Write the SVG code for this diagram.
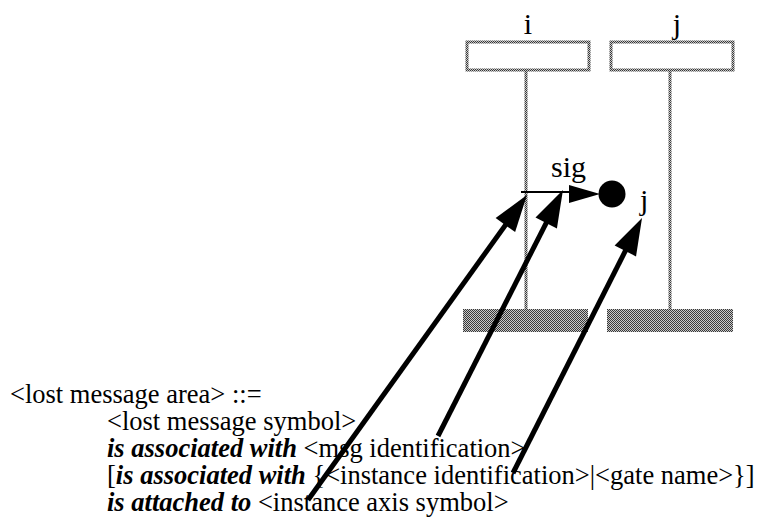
<svg xmlns="http://www.w3.org/2000/svg" width="758" height="523" viewBox="0 0 758 523">
<defs>
<pattern id="chk" x="0" y="0" width="2" height="2" patternUnits="userSpaceOnUse">
<rect width="2" height="2" fill="#c8c8c8"/>
<rect width="1" height="1" fill="#383838"/>
<rect x="1" y="1" width="1" height="1" fill="#383838"/>
</pattern>
<marker id="ah" markerUnits="userSpaceOnUse" markerWidth="40" markerHeight="28" viewBox="-38 -14 40 28" refX="-20" refY="0" orient="auto" overflow="visible">
<path d="M0,0 L-37,-12 L-37,12 Z" fill="#000"/>
</marker>
<style>
.lbl{font-family:"Liberation Serif","Times New Roman",serif;font-size:30px;fill:#000}
.txt{font-family:"Liberation Serif","Times New Roman",serif;font-size:26.5px;fill:#000}
.kw{font-weight:bold;font-style:italic}
.box{fill:#fff;stroke:url(#chk);stroke-width:3}
.axis{stroke:url(#chk);stroke-width:3;fill:none}
.bar{fill:url(#chk)}
.arr{stroke:#000;stroke-width:5;fill:none;marker-end:url(#ah)}
</style>
</defs>
<g id="instance-i">
<text class="lbl" x="528" y="34" text-anchor="middle">i</text>
<rect class="box" x="467" y="42" width="122" height="28"/>
<line class="axis" x1="526" y1="71" x2="526" y2="309"/>
<rect class="bar" x="463" y="309" width="125" height="23"/>
</g>
<g id="instance-j">
<text class="lbl" x="677" y="34" text-anchor="middle">j</text>
<rect class="box" x="611" y="42" width="122" height="28"/>
<line class="axis" x1="670" y1="71" x2="670" y2="309"/>
<rect class="bar" x="607" y="309" width="126" height="23"/>
</g>
<g id="lost-message">
<line x1="521" y1="192" x2="570" y2="192" stroke="#000" stroke-width="2"/>
<path d="M569,185 L600,194 L569,203 Z" fill="#000"/>
<circle cx="612" cy="194" r="13.5" fill="#000"/>
<text class="lbl" x="551" y="177">sig</text>
<text class="lbl" x="640" y="210">j</text>
</g>
<g id="grammar">
<text class="txt" x="10" y="403">&lt;lost message area&gt; ::=</text>
<text class="txt" x="107" y="430">&lt;lost message symbol&gt;</text>
<text class="txt" x="107" y="457"><tspan class="kw">is associated with</tspan> &lt;msg identification&gt;</text>
<text class="txt" x="107" y="484">[<tspan class="kw">is associated with</tspan> {&lt;instance identification&gt;|&lt;gate name&gt;}]</text>
<text class="txt" x="107" y="511"><tspan class="kw">is attached to</tspan> &lt;instance axis symbol&gt;</text>
</g>
<g id="connectors">
<line class="arr" x1="308" y1="500" x2="515.3" y2="211.3"/>
<line class="arr" x1="438" y1="436" x2="553.9" y2="207.8"/>
<line class="arr" x1="513" y1="473" x2="633" y2="235.8"/>
</g>
</svg>
